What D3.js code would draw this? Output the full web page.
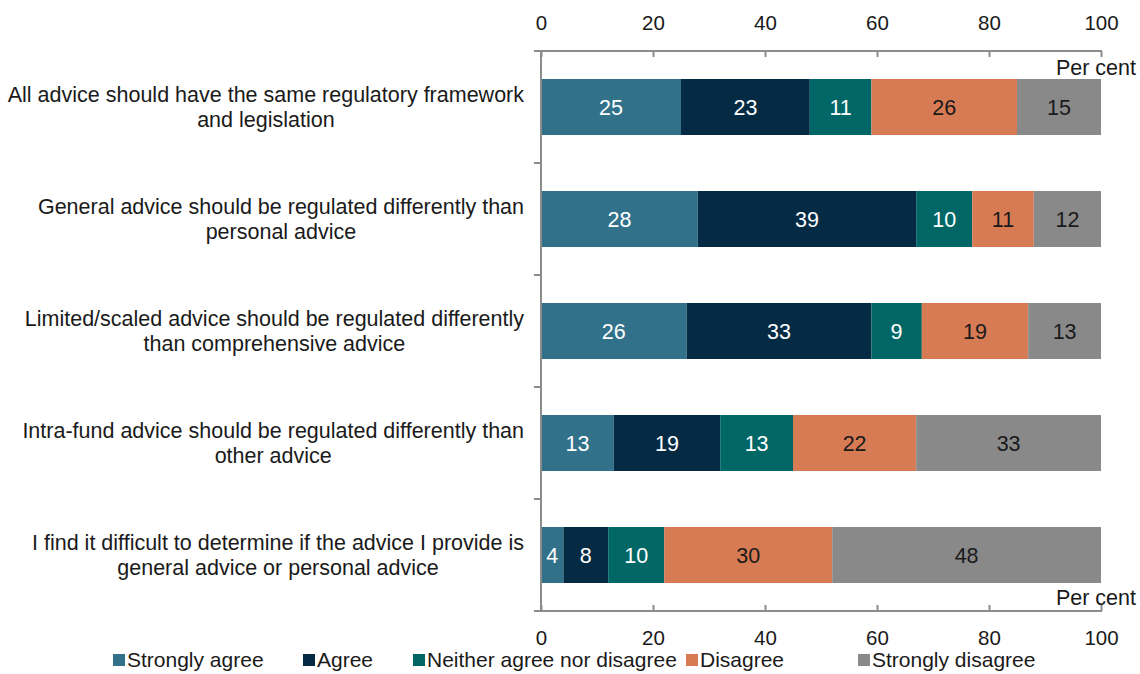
<!DOCTYPE html>
<html>
<head>
<meta charset="utf-8">
<script src="https://cdn.jsdelivr.net/npm/d3@7"></script>
<style>
  html, body { margin: 0; padding: 0; background: #fff; }
  svg { display: block; font-family: "Liberation Sans", Arial, sans-serif; }
</style>
</head>
<body>
<svg id="chart" width="1140" height="674"></svg>
<script>
// Survey statements (two display lines each)
const categories = [
  ["All advice should have the same regulatory framework", "and legislation"],
  ["General advice should be regulated differently than", "personal advice"],
  ["Limited/scaled advice should be regulated differently", "than comprehensive advice"],
  ["Intra-fund advice should be regulated differently than", "other advice"],
  ["I find it difficult to determine if the advice I provide is", "general advice or personal advice"]
];
const seriesNames = ["Strongly agree", "Agree", "Neither agree nor disagree", "Disagree", "Strongly disagree"];
const stronglyAgree    = [25, 28, 26, 13, 4];
const agree            = [23, 39, 33, 19, 8];
const neither          = [11, 10, 9, 13, 10];
const disagree         = [26, 11, 19, 22, 30];
const stronglyDisagree = [15, 12, 13, 33, 48];
const xTicks = [0, 20, 40, 60, 80, 100];

const colors = ["#31728a", "#042a44", "#006766", "#d77b55", "#898989"];
const textColors = ["#ffffff", "#ffffff", "#ffffff", "#1a1a1a", "#1a1a1a"];

const seriesValues = [stronglyAgree, agree, neither, disagree, stronglyDisagree];
const rows = categories.map((c, i) => {
  const r = { key: i };
  seriesNames.forEach((s, j) => { r[s] = seriesValues[j][i]; });
  return r;
});

const svg = d3.select("#chart");
const plotLeft = 541, plotRight = 1101, plotTop = 51, plotBottom = 611;
const axisColor = "#8c8c8c";
const fontSize = 21.5;
const tickFontSize = 20.5;
const legendFontSize = 21;

const x = d3.scaleLinear().domain([0, 100]).range([plotLeft, plotRight]);
const y = d3.scaleBand().domain(d3.range(categories.length)).range([plotTop, plotBottom])
  .paddingInner(0.5).paddingOuter(0.25);

const stacked = d3.stack().keys(seriesNames)(rows);

// Bars
const layer = svg.append("g").selectAll("g").data(stacked).join("g")
  .attr("fill", (d, i) => colors[i]);
layer.selectAll("rect").data(d => d).join("rect")
  .attr("x", d => x(d[0]))
  .attr("y", (d, i) => y(i))
  .attr("width", d => x(d[1]) - x(d[0]))
  .attr("height", y.bandwidth());

// Value labels
stacked.forEach((s, si) => {
  svg.append("g").selectAll("text").data(s).join("text")
    .attr("x", d => (x(d[0]) + x(d[1])) / 2)
    .attr("y", (d, i) => y(i) + y.bandwidth() / 2)
    .attr("dy", "0.36em")
    .attr("text-anchor", "middle")
    .attr("font-size", fontSize)
    .attr("fill", textColors[si])
    .text(d => d[1] - d[0]);
});

// Top and bottom value axes
const topAxis = svg.append("g").attr("transform", `translate(0,${plotTop})`)
  .call(d3.axisTop(x).tickValues(xTicks).tickSizeInner(-6).tickSizeOuter(0).tickPadding(21));
const bottomAxis = svg.append("g").attr("transform", `translate(0,${plotBottom})`)
  .call(d3.axisBottom(x).tickValues(xTicks).tickSizeInner(-6).tickSizeOuter(0).tickPadding(19));
[topAxis, bottomAxis].forEach(a => {
  a.select(".domain").remove();
  a.selectAll(".tick line").attr("stroke", axisColor).attr("stroke-width", 2);
  a.selectAll(".tick text").attr("font-size", tickFontSize).attr("fill", "#1a1a1a")
    .attr("font-family", "Liberation Sans, Arial, sans-serif");
});
// Axis baselines (extend to meet the category tick marks)
svg.append("line").attr("x1", plotLeft - 7).attr("x2", plotRight + 1).attr("y1", plotTop).attr("y2", plotTop)
  .attr("stroke", axisColor).attr("stroke-width", 2);
svg.append("line").attr("x1", plotLeft - 7).attr("x2", plotRight + 1).attr("y1", plotBottom).attr("y2", plotBottom)
  .attr("stroke", axisColor).attr("stroke-width", 2);

// Category axis with tick marks at band boundaries
svg.append("line").attr("x1", plotLeft).attr("x2", plotLeft).attr("y1", plotTop).attr("y2", plotBottom)
  .attr("stroke", axisColor).attr("stroke-width", 2);
const boundaries = d3.range(categories.length + 1)
  .map(i => plotTop + i * (plotBottom - plotTop) / categories.length);
svg.append("g").selectAll("line").data(boundaries).join("line")
  .attr("x1", plotLeft - 7).attr("x2", plotLeft).attr("y1", d => d).attr("y2", d => d)
  .attr("stroke", axisColor).attr("stroke-width", 2);

// Category labels: lines centred on each other, block right-aligned to the axis
const labelRight = 524;
const catLabels = svg.append("g").selectAll("text").data(categories).join("text")
  .attr("text-anchor", "middle")
  .attr("font-size", fontSize)
  .attr("fill", "#1a1a1a");
catLabels.each(function(d, i) {
  const t = d3.select(this);
  d.forEach((line, k) => {
    t.append("tspan").attr("x", 0).attr("y", (k - (d.length - 1) / 2) * 25).attr("dy", "0.36em").text(line);
  });
  const widest = d3.max(t.selectAll("tspan").nodes(), n => n.getComputedTextLength());
  t.attr("transform", `translate(${labelRight - widest / 2},${y(i) + y.bandwidth() / 2})`);
});

// Unit labels
svg.append("text").attr("x", 1136).attr("y", plotTop + 16).attr("dy", "0.36em")
  .attr("text-anchor", "end").attr("font-size", fontSize).attr("fill", "#1a1a1a").text("Per cent");
svg.append("text").attr("x", 1136).attr("y", plotBottom - 14).attr("dy", "0.36em")
  .attr("text-anchor", "end").attr("font-size", fontSize).attr("fill", "#1a1a1a").text("Per cent");

// Legend
const legendX = [113, 303, 413, 686, 858];
const legend = svg.append("g").selectAll("g").data(seriesNames).join("g")
  .attr("transform", (d, i) => `translate(${legendX[i]},659)`);
legend.append("rect").attr("x", 0).attr("y", -5).attr("width", 12).attr("height", 12)
  .attr("fill", (d, i) => colors[i]);
legend.append("text").attr("x", 14).attr("dy", "0.36em").attr("font-size", legendFontSize)
  .attr("fill", "#1a1a1a").text(d => d);
</script>
</body>
</html>
